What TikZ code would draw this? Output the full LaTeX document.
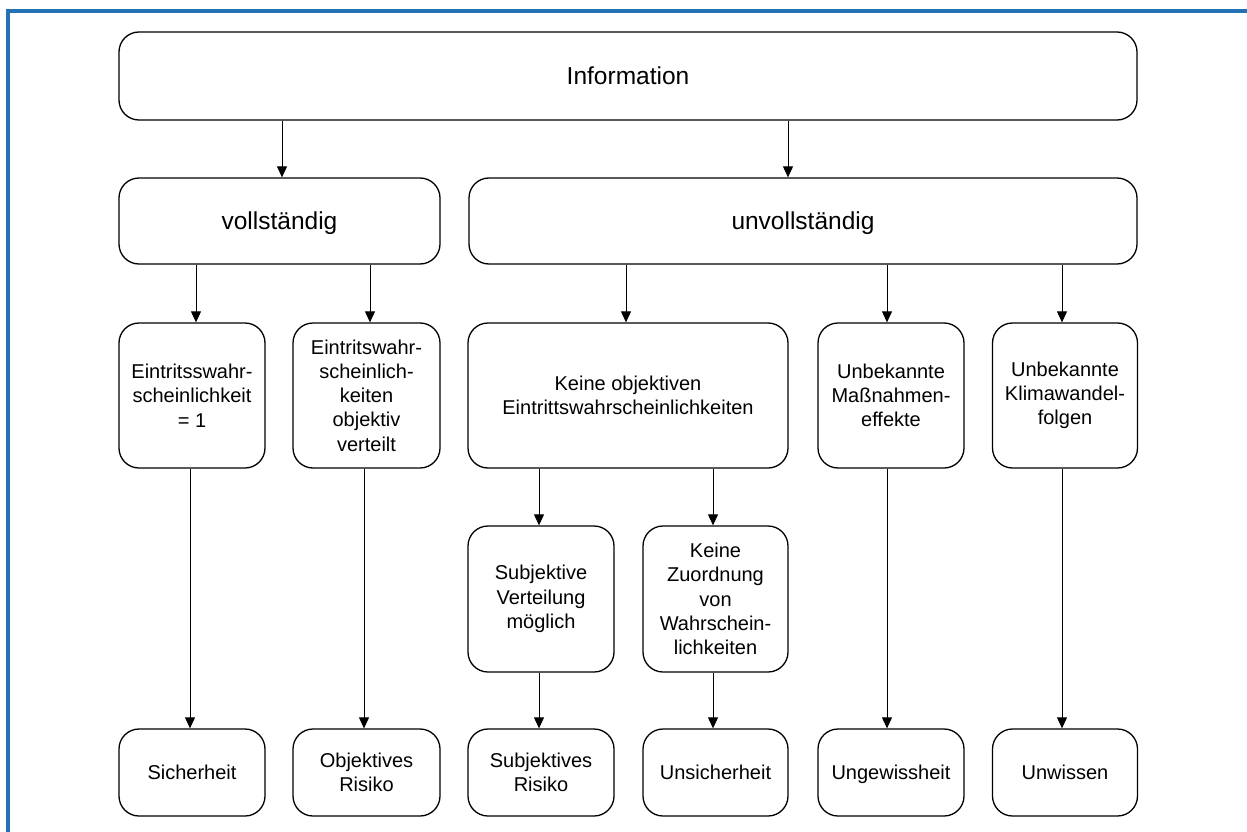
\documentclass[tikz,border=0pt]{standalone}
\usepackage{fontspec}
\setmainfont{Liberation Sans}
\usetikzlibrary{arrows.meta}
\definecolor{frameblue}{RGB}{36,114,180}
\newcommand\myStrutS{\rule[-5pt]{0pt}{24.3pt}}
\newcommand\myStrutB{\rule[-6pt]{0pt}{29.5pt}}
\tikzset{
  box/.style={draw, rounded corners=20pt, line width=1.3pt, align=center, inner sep=0pt,
    font=\fontsize{20}{24.3}\selectfont},
  bigbox/.style={box, font=\fontsize{24.5}{29}\selectfont},
  arr/.style={line width=1pt, -{Triangle[width=10pt,length=11pt]}},
  frame/.style={draw=frameblue, line width=4pt}
}
\begin{document}
\begin{tikzpicture}[x=1pt,y=-1pt]
\useasboundingbox (0,0) rectangle (1247,832);
% blue frame (top and left)
\draw[frame] (8,11) -- (1247,11);
\draw[frame] (8,9) -- (8,832);

% row 1
\node[bigbox, minimum width=1018pt, minimum height=88pt] (info) at (628,76) {\myStrutB Information};
% row 2
\node[bigbox, minimum width=321pt, minimum height=86pt] (voll) at (279.5,221) {\myStrutB vollständig};
\node[bigbox, minimum width=668pt, minimum height=86pt] (unvoll) at (803,221) {\myStrutB unvollständig};
% row 3
\node[box, minimum width=146pt, minimum height=145pt] (a) at (192,395.5) {Eintritsswahr-\\scheinlichkeit\\= 1};
\node[box, minimum width=147pt, minimum height=145pt] (b) at (366.5,395.5) {Eintritswahr-\\scheinlich-\\keiten\\objektiv\\verteilt};
\node[box, minimum width=320pt, minimum height=145pt] (c) at (628,395.5) {Keine objektiven\\Eintrittswahrscheinlichkeiten};
\node[box, minimum width=146pt, minimum height=145pt] (d) at (891,395.5) {Unbekannte\\Maßnahmen-\\effekte};
\node[box, minimum width=145pt, minimum height=145pt] (e) at (1065,395.5) {Unbekannte\\Klimawandel-\\folgen};
% row 4
\node[box, minimum width=146pt, minimum height=146pt] (f) at (541,599) {Subjektive\\Verteilung\\möglich};
\node[box, minimum width=145pt, minimum height=146pt] (g) at (715.5,599) {Keine\\Zuordnung\\von\\Wahrschein-\\lichkeiten};
% row 5
\node[box, minimum width=146pt, minimum height=87pt] (r1) at (192,772.5) {\myStrutS Sicherheit};
\node[box, minimum width=147pt, minimum height=87pt] (r2) at (366.5,772.5) {Objektives\\Risiko};
\node[box, minimum width=146pt, minimum height=87pt] (r3) at (541,772.5) {Subjektives\\Risiko};
\node[box, minimum width=145pt, minimum height=87pt] (r4) at (715.5,772.5) {\myStrutS Unsicherheit};
\node[box, minimum width=146pt, minimum height=87pt] (r5) at (891,772.5) {\myStrutS Ungewissheit};
\node[box, minimum width=145pt, minimum height=87pt] (r6) at (1065,772.5) {\myStrutS Unwissen};

% connectors
\draw[arr] (info.south -| 282,0) -- (voll.north -| 282,0);
\draw[arr] (info.south -| 788,0) -- (unvoll.north -| 788,0);
\draw[arr] (voll.south -| 196,0) -- (a.north -| 196,0);
\draw[arr] (voll.south -| 370,0) -- (b.north -| 370,0);
\draw[arr] (unvoll.south -| 626,0) -- (c.north -| 626,0);
\draw[arr] (unvoll.south -| 887,0) -- (d.north -| 887,0);
\draw[arr] (unvoll.south -| 1062,0) -- (e.north -| 1062,0);
\draw[arr] (c.south -| 539,0) -- (f.north -| 539,0);
\draw[arr] (c.south -| 713,0) -- (g.north -| 713,0);
\draw[arr] (a.south -| 190,0) -- (r1.north -| 190,0);
\draw[arr] (b.south -| 364,0) -- (r2.north -| 364,0);
\draw[arr] (f.south -| 539,0) -- (r3.north -| 539,0);
\draw[arr] (g.south -| 713,0) -- (r4.north -| 713,0);
\draw[arr] (d.south -| 887,0) -- (r5.north -| 887,0);
\draw[arr] (e.south -| 1062,0) -- (r6.north -| 1062,0);
\end{tikzpicture}
\end{document}
